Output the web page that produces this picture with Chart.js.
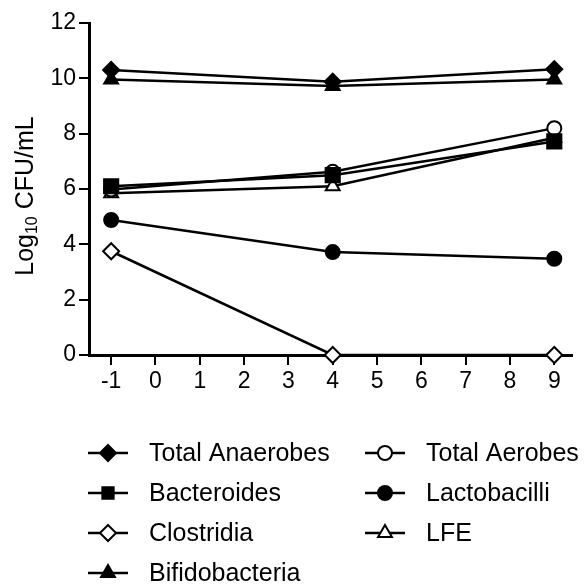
<!DOCTYPE html>
<html>
<head>
<meta charset="utf-8">
<script src="https://cdn.jsdelivr.net/npm/chart.js@4/dist/chart.umd.min.js"></script>
<style>
  html, body { margin: 0; padding: 0; background: #fff; }
  canvas { display: block; }
</style>
</head>
<body>
<canvas id="chart" width="584" height="586"></canvas>
<script>
// days
const days = [-1, 4, 9];

// log10 CFU/mL per group
const totalAnaerobes = [10.3, 9.88, 10.33];
const bacteroides = [6.1, 6.5, 7.72];
const clostridia = [3.75, 0, 0];
const bifidobacteria = [9.96, 9.72, 9.96];
const totalAerobes = [5.98, 6.62, 8.2];
const lactobacilli = [4.88, 3.72, 3.48];
const lfe = [5.85, 6.1, 7.85];

const xTicks = [-1, 0, 1, 2, 3, 4, 5, 6, 7, 8, 9];
const yTicks = [0, 2, 4, 6, 8, 10, 12];

const FONT = '"Liberation Sans", Arial, Helvetica, sans-serif';

function series(label, values, style, radius, filled) {
  return {
    label,
    data: days.map((d, i) => ({ x: d, y: values[i] })),
    borderColor: "#000",
    borderWidth: 2.5,
    pointStyle: style,
    pointRadius: radius,
    pointHoverRadius: radius,
    pointBorderWidth: 2,
    pointBackgroundColor: filled ? "#000" : "#fff",
    pointBorderColor: "#000",
    clip: false,
    fill: false,
    tension: 0,
  };
}

const datasets = [
  series("Total Anaerobes", totalAnaerobes, "rectRot", 8, true),
  series("Bacteroides", bacteroides, "rect", 10, true),
  series("Clostridia", clostridia, "rectRot", 8, false),
  series("Bifidobacteria", bifidobacteria, "triangle", 8, true),
  series("Total Aerobes", totalAerobes, "circle", 7, false),
  series("Lactobacilli", lactobacilli, "circle", 7, true),
  series("LFE", lfe, "triangle", 8, false),
];

function marker(ctx, style, r, x, y, filled) {
  ctx.save();
  ctx.beginPath();
  if (style === "circle") {
    ctx.arc(x, y, r, 0, Math.PI * 2);
  } else if (style === "rect") {
    const s = r * Math.SQRT1_2;
    ctx.rect(x - s, y - s, 2 * s, 2 * s);
  } else if (style === "rectRot") {
    ctx.moveTo(x, y - r); ctx.lineTo(x + r, y); ctx.lineTo(x, y + r); ctx.lineTo(x - r, y);
  } else if (style === "triangle") {
    for (let k = 0; k < 3; k++) {
      const a = k * 2 * Math.PI / 3;
      const px = x + Math.sin(a) * r, py = y - Math.cos(a) * r;
      k ? ctx.lineTo(px, py) : ctx.moveTo(px, py);
    }
  }
  ctx.closePath();
  ctx.fillStyle = filled ? "#000" : "#fff";
  ctx.fill();
  ctx.lineWidth = 2;
  ctx.strokeStyle = "#000";
  ctx.stroke();
  ctx.restore();
}

const sideLegend = {
  id: "sideLegend",
  afterDraw(chart) {
    const ctx = chart.ctx;
    const colX = [108, 385];
    const rowY = [453, 493, 533, 573];
    ctx.save();
    ctx.font = "25px " + FONT;
    ctx.fillStyle = "#000";
    ctx.textBaseline = "middle";
    ctx.textAlign = "left";
    chart.data.datasets.forEach((ds, i) => {
      const col = i < 4 ? 0 : 1;
      const row = i < 4 ? i : i - 4;
      const cx = colX[col], cy = rowY[row];
      ctx.beginPath();
      ctx.moveTo(cx - 20, cy);
      ctx.lineTo(cx + 20, cy);
      ctx.lineWidth = 2.5;
      ctx.strokeStyle = "#000";
      ctx.stroke();
      marker(ctx, ds.pointStyle, Math.min(ds.pointRadius, 8), cx, cy, ds.pointBackgroundColor === "#000");
      ctx.fillText(ds.label, cx + 41, cy + 1);
    });
    ctx.restore();
  },
};

const yTitle = {
  id: "yTitle",
  afterDraw(chart) {
    const ctx = chart.ctx;
    const big = "25px " + FONT, small = "16px " + FONT;
    ctx.save();
    ctx.translate(33, 196);
    ctx.rotate(-Math.PI / 2);
    ctx.fillStyle = "#000";
    ctx.textBaseline = "alphabetic";
    ctx.textAlign = "left";
    ctx.font = big;
    const w1 = ctx.measureText("Log").width;
    const w3 = ctx.measureText(" CFU/mL").width;
    ctx.font = small;
    const w2 = ctx.measureText("10").width;
    let x = -(w1 + w2 + w3) / 2;
    ctx.font = big;
    ctx.fillText("Log", x, 0);
    x += w1;
    ctx.font = small;
    ctx.fillText("10", x, 4);
    x += w2;
    ctx.font = big;
    ctx.fillText(" CFU/mL", x, 0);
    ctx.restore();
  },
};

const axisStyle = {
  border: { color: "#000", width: 3 },
  grid: { drawOnChartArea: false, drawTicks: true, tickLength: 10, color: "#000", lineWidth: 2 },
};

new Chart(document.getElementById("chart"), {
  type: "line",
  data: { datasets },
  options: {
    responsive: false,
    animation: false,
    events: [],
    layout: { padding: { top: 23, right: 0, bottom: 181, left: 0 } },
    plugins: { legend: { display: false }, tooltip: { enabled: false } },
    scales: {
      x: {
        type: "linear",
        min: -1.5,
        max: 9.4,
        ...axisStyle,
        ticks: { color: "#000", font: { size: 23, family: FONT }, padding: 3 },
        afterBuildTicks: (s) => { s.ticks = xTicks.map((v) => ({ value: v })); },
        afterFit: (s) => { s.height = 50; },
      },
      y: {
        type: "linear",
        min: 0,
        max: 12,
        ...axisStyle,
        ticks: { color: "#000", font: { size: 23, family: FONT }, padding: 3 },
        afterBuildTicks: (s) => { s.ticks = yTicks.map((v) => ({ value: v })); },
        afterFit: (s) => { s.width = 89; },
      },
    },
  },
  plugins: [yTitle, sideLegend],
});
</script>
</body>
</html>
